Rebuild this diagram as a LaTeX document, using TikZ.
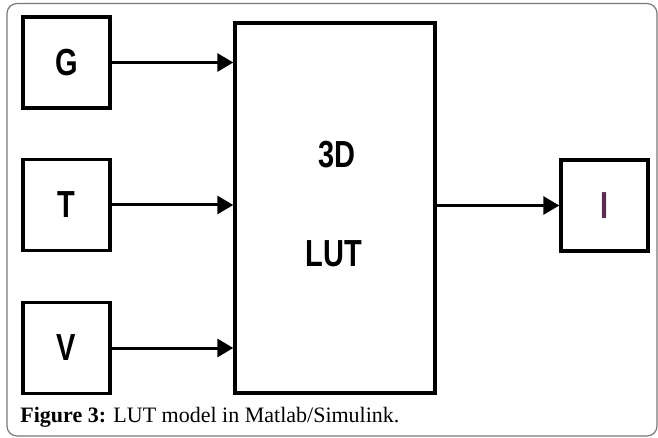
\documentclass[tikz,border=0pt]{standalone}
\usepackage{fontspec}
\setmainfont{Liberation Serif}
\newfontfamily\blockfont{Liberation Sans}
\usetikzlibrary{arrows.meta,positioning}
\definecolor{framegray}{RGB}{120,120,120}
\definecolor{outlabel}{RGB}{90,45,80}
\newcommand{\tall}[1]{\scalebox{1}[1.3]{#1}}

\begin{document}
\begin{tikzpicture}[x=0.5pt,y=0.5pt]
\tikzstyle{every node}+=[inner sep=0pt]
\tikzstyle{block}=[draw=black,line width=1.7pt,minimum width=43.5pt,minimum height=45.5pt,font=\blockfont\bfseries\fontsize{14.5}{14.5}\selectfont]
\tikzstyle{wire}=[line width=1.5pt,-{Triangle[length=8pt,width=9pt]}]
\useasboundingbox (0,0) rectangle (658,-438);
\draw [framegray,line width=0.6pt,rounded corners=5pt] (7,-3.5) rectangle (657,-436);
\node (g) [block] at (66.5,-62.5) {\tall{G}};
\node (t) [block] at (66.5,-205) {\tall{T}};
\node (v) [block] at (66.5,-348) {\tall{V}};
\node (lut) [block,minimum width=100pt,minimum height=185pt] at (335,-208) {};
\node (lut3d) [font=\blockfont\bfseries\fontsize{14.5}{14.5}\selectfont] at (337,-155) {\tall{3D}};
\node (lutname) [font=\blockfont\bfseries\fontsize{14.5}{14.5}\selectfont] at (334,-254) {\tall{LUT}};
\node (i) [block,text=outlabel] at (604.5,-205.5) {\tall{I}};
\draw [wire] (g) -- (g -| lut.west);
\draw [wire] (t) -- (t -| lut.west);
\draw [wire] (v) -- (v -| lut.west);
\draw [wire] (lut.east |- i) -- (i);
\node (caption) [anchor=base west,font=\fontsize{11}{13}\selectfont] at (20,-422) {\textbf{Figure 3:} LUT model in Matlab/Simulink.};
\end{tikzpicture}
\end{document}
